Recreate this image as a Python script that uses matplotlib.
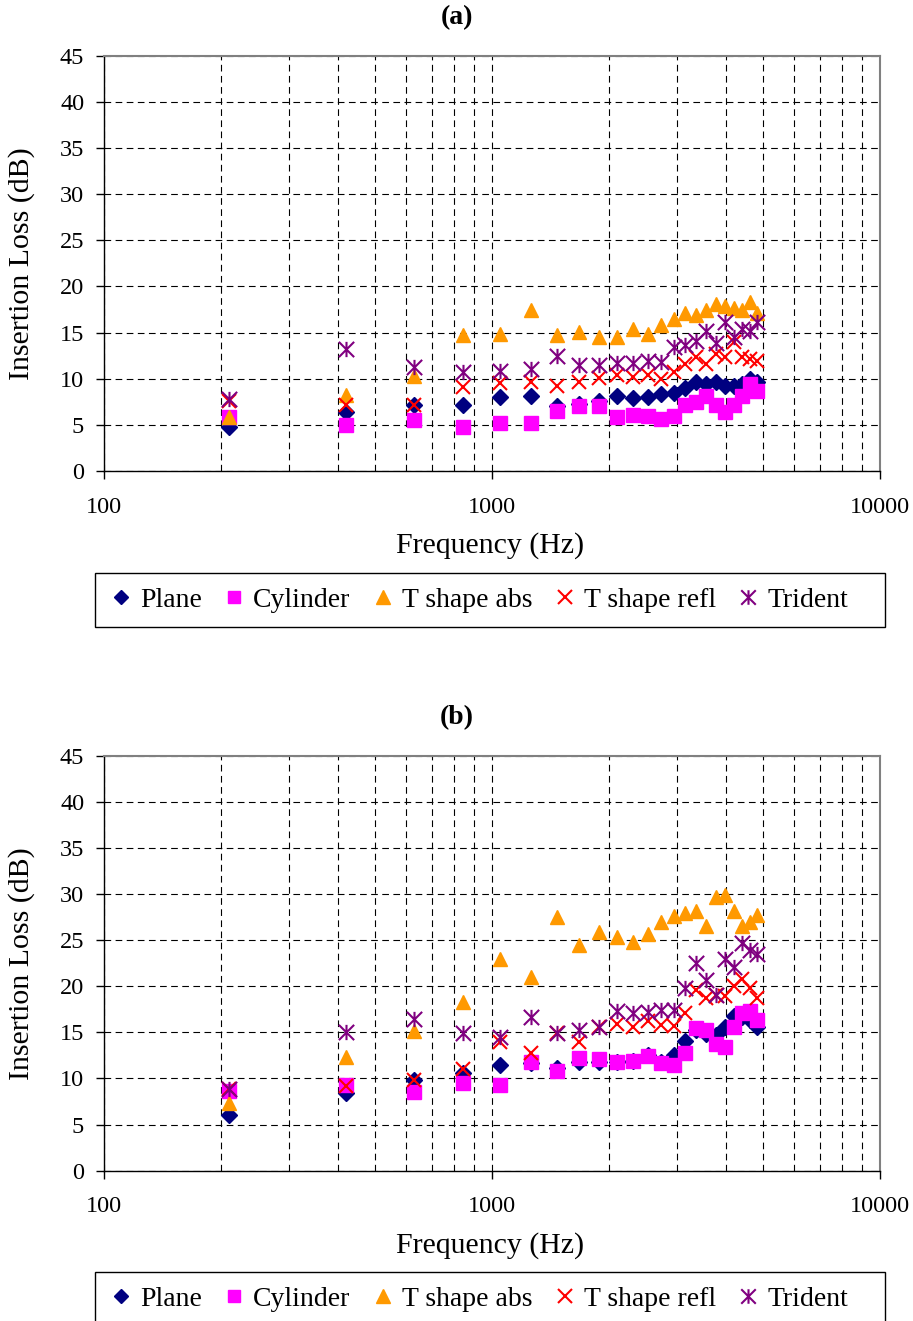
import matplotlib
matplotlib.use("Agg")
import matplotlib.pyplot as plt
import numpy as np
from matplotlib.path import Path
from matplotlib.patches import Rectangle
from matplotlib.ticker import FixedLocator, NullFormatter, LogLocator

plt.rcParams['font.family'] = ['Liberation Serif', 'DejaVu Serif']

# frequencies (Hz), shared by both panels
freq = [210, 420, 630, 840, 1050, 1260, 1470, 1680, 1890, 2100, 2310, 2520,
        2730, 2940, 3150, 3360, 3570, 3780, 3990, 4200, 4410, 4620, 4830]

# panel (a)
a_plane = [4.8, 6.4, 7.1, 7.2, 8.0, 8.1, 7.0, 7.3, 7.6, 8.1, 7.9, 8.0,
           8.3, 8.4, 9.0, 9.6, 9.4, 9.6, 9.2, 9.2, 9.4, 10.0, 9.6]
a_cyl = [5.9, 5.0, 5.5, 4.8, 5.2, 5.2, 6.5, 7.0, 7.0, 5.9, 6.1, 6.0,
         5.6, 6.0, 7.2, 7.5, 8.1, 7.2, 6.4, 7.2, 8.1, 9.4, 8.7]
a_tabs = [5.8, 8.2, 10.3, 14.7, 14.9, 17.4, 14.7, 15.1, 14.5, 14.5, 15.4, 14.8,
          15.8, 16.5, 17.1, 16.9, 17.5, 18.1, 17.9, 17.7, 17.5, 18.3, 17.1]
a_trefl = [7.6, 7.1, 7.1, 9.1, 9.5, 9.6, 9.2, 9.6, 10.1, 10.4, 10.2, 10.4,
           10.0, 10.7, 11.6, 12.3, 11.6, 12.7, 12.3, 14.0, 12.3, 12.1, 11.9]
a_trident = [7.8, 13.2, 11.3, 10.7, 10.8, 11.1, 12.5, 11.5, 11.5, 11.7, 11.7, 11.9,
             11.8, 13.4, 13.7, 14.1, 15.2, 13.9, 16.1, 14.5, 15.4, 15.2, 16.1]

# panel (b)
b_plane = [6.0, 8.4, 9.8, 10.6, 11.5, 11.7, 11.1, 11.8, 11.8, 11.8, 11.9, 12.5,
           11.8, 12.5, 14.1, 15.2, 14.8, 14.7, 15.6, 16.8, 16.7, 16.3, 15.6]
b_cyl = [8.6, 9.3, 8.5, 9.5, 9.3, 11.8, 10.8, 12.2, 12.1, 11.8, 11.9, 12.4,
         11.7, 11.5, 12.8, 15.5, 15.2, 13.7, 13.4, 15.6, 17.1, 17.3, 16.3]
b_tabs = [7.3, 12.3, 15.1, 18.3, 23.0, 21.0, 27.5, 24.5, 25.9, 25.3, 24.8, 25.7,
          27.0, 27.6, 27.9, 28.1, 26.5, 29.7, 29.9, 28.1, 26.5, 27.0, 27.7]
b_trefl = [8.9, 9.2, 9.8, 11.0, 13.9, 12.8, 14.9, 13.9, 15.6, 15.9, 15.6, 16.2,
           15.8, 15.7, 17.1, 19.6, 18.7, 19.1, 18.9, 20.0, 20.8, 19.8, 18.7]
b_trident = [8.9, 15.0, 16.4, 14.9, 14.5, 16.7, 14.9, 15.3, 15.6, 17.3, 17.1, 17.2,
             17.4, 17.4, 19.8, 22.5, 20.7, 19.1, 22.9, 22.1, 24.7, 23.9, 23.5]

labels = ["Plane", "Cylinder", "T shape abs", "T shape refl", "Trident"]
colors = ["#000080", "#FF00FF", "#FF9900", "#FF0000", "#800080"]

# Excel style asterisk: X with a vertical bar
star = Path([(0, -1), (0, 1), (-1, -1), (1, 1), (-1, 1), (1, -1)],
            [Path.MOVETO, Path.LINETO] * 3)

styles = [
    dict(marker="D", markersize=8, linestyle="none"),
    dict(marker="s", markersize=9.5, linestyle="none"),
    dict(marker="^", markersize=10.5, linestyle="none"),
    dict(marker="x", markersize=10, markeredgewidth=1.5, linestyle="none"),
    dict(marker=star, markersize=11, markeredgewidth=1.5, linestyle="none",
         markerfacecolor="none"),
]

fig = plt.figure(figsize=(9.13, 13.21), dpi=100)


def panel(rect, series, title, title_y, xlab_y, leg_y, box):
    ax = fig.add_axes(rect)
    handles = []
    for vals, lab, col, st in zip(series, labels, colors, styles):
        h, = ax.plot(freq, vals, color=col, label=lab, **st)
        handles.append(h)
    ax.set_xscale("log")
    ax.set_xlim(100, 10000)
    ax.set_ylim(0, 45)
    ax.set_yticks(np.arange(0, 46, 5))
    ax.xaxis.set_major_locator(FixedLocator([100, 1000, 10000]))
    ax.xaxis.set_minor_locator(LogLocator(base=10, subs=np.arange(2, 10)))
    ax.xaxis.set_minor_formatter(NullFormatter())
    ax.set_xticklabels(["100", "1000", "10000"])
    ax.grid(True, which="both", axis="x", color="black", linestyle=(0, (6, 4)), linewidth=0.8)
    ax.grid(True, which="major", axis="y", color="black", linestyle=(0, (6, 4)), linewidth=0.8)
    ax.set_axisbelow(True)
    ax.tick_params(axis="x", which="major", length=5.5, width=1, pad=13, labelsize=17.5)
    ax.tick_params(axis="x", which="minor", length=0)
    ax.tick_params(axis="y", which="major", length=5.8, width=1, pad=8.5, labelsize=17.5)
    for s in ["top", "right"]:
        ax.spines[s].set_color("#808080")
        ax.spines[s].set_linewidth(1.5)
    for s in ["left", "bottom"]:
        ax.spines[s].set_color("black")
        ax.spines[s].set_linewidth(1.0)
    fig.text(0.5, title_y, title, ha="center", va="center", fontsize=20, fontweight="bold")
    fig.text(0.537, xlab_y, "Frequency (Hz)", ha="center", va="center", fontsize=21.5)
    fig.text(0.024, rect[1] + rect[3] / 2, "Insertion Loss (dB)", ha="center", va="center",
             rotation=90, fontsize=21.5)
    # legend entries without frame, frame drawn separately (Excel leaves room on the right)
    fig.legend(handles=handles, loc="center", bbox_to_anchor=(0.523, leg_y), ncol=5,
               fontsize=20, frameon=False, handletextpad=0.2, columnspacing=0.65,
               handlelength=1.0, borderpad=0.35, markerscale=0.95)
    fig.patches.append(Rectangle((box[0], box[1]), box[2], box[3], transform=fig.transFigure,
                                 fill=False, edgecolor="black", linewidth=1.0))
    return ax


panel([0.1139, 0.6435, 0.85, 0.3142], [a_plane, a_cyl, a_tabs, a_trefl, a_trident],
      "(a)", 0.9864, 0.5867, 0.5458, (0.104, 0.5254, 0.8653, 0.0409))
panel([0.1139, 0.1138, 0.85, 0.3142], [b_plane, b_cyl, b_tabs, b_trefl, b_trident],
      "(b)", 0.4565, 0.0575, 0.0167, (0.104, -0.0038, 0.8653, 0.0409))

fig.savefig("out.png", dpi=100)
